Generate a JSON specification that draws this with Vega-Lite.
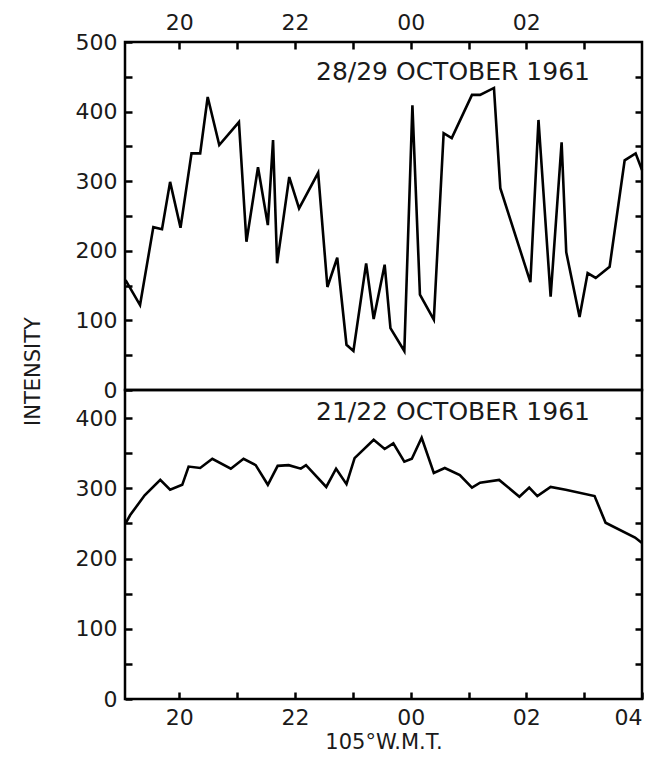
{
  "$schema": "https://vega.github.io/schema/vega-lite/v6.json",
  "background": "white",
  "padding": {"left": 20, "top": 9, "right": 0, "bottom": 4},
  "spacing": 0,
  "bounds": "flush",
  "config": {
    "view": {"stroke": "black", "strokeWidth": 2.5},
    "font": "DejaVu Sans",
    "axis": {
      "domain": false,
      "grid": false,
      "tickColor": "black",
      "tickWidth": 2.5,
      "tickSize": -7,
      "labelFont": "DejaVu Sans",
      "labelFontSize": 22,
      "labelColor": "#1a1a1a",
      "labelPadding": 15,
      "titleFont": "DejaVu Sans",
      "titleFontSize": 21,
      "titleFontWeight": "normal",
      "titleColor": "#1a1a1a"
    }
  },
  "datasets": {
    "obs": [
      {"night": "28/29", "hour": 19.07, "intensity": 158},
      {"night": "28/29", "hour": 19.32, "intensity": 122},
      {"night": "28/29", "hour": 19.55, "intensity": 234},
      {"night": "28/29", "hour": 19.70, "intensity": 231},
      {"night": "28/29", "hour": 19.84, "intensity": 299},
      {"night": "28/29", "hour": 20.02, "intensity": 233},
      {"night": "28/29", "hour": 20.21, "intensity": 340},
      {"night": "28/29", "hour": 20.36, "intensity": 340},
      {"night": "28/29", "hour": 20.49, "intensity": 421},
      {"night": "28/29", "hour": 20.69, "intensity": 352},
      {"night": "28/29", "hour": 21.03, "intensity": 385},
      {"night": "28/29", "hour": 21.16, "intensity": 213},
      {"night": "28/29", "hour": 21.36, "intensity": 320},
      {"night": "28/29", "hour": 21.53, "intensity": 237},
      {"night": "28/29", "hour": 21.62, "intensity": 359},
      {"night": "28/29", "hour": 21.69, "intensity": 182},
      {"night": "28/29", "hour": 21.90, "intensity": 306},
      {"night": "28/29", "hour": 22.07, "intensity": 261},
      {"night": "28/29", "hour": 22.40, "intensity": 312},
      {"night": "28/29", "hour": 22.56, "intensity": 148},
      {"night": "28/29", "hour": 22.73, "intensity": 190},
      {"night": "28/29", "hour": 22.89, "intensity": 65},
      {"night": "28/29", "hour": 23.01, "intensity": 56},
      {"night": "28/29", "hour": 23.23, "intensity": 182},
      {"night": "28/29", "hour": 23.36, "intensity": 102},
      {"night": "28/29", "hour": 23.55, "intensity": 180},
      {"night": "28/29", "hour": 23.65, "intensity": 89},
      {"night": "28/29", "hour": 23.89, "intensity": 56},
      {"night": "28/29", "hour": 24.03, "intensity": 409},
      {"night": "28/29", "hour": 24.16, "intensity": 137},
      {"night": "28/29", "hour": 24.40, "intensity": 101},
      {"night": "28/29", "hour": 24.57, "intensity": 369},
      {"night": "28/29", "hour": 24.71, "intensity": 362},
      {"night": "28/29", "hour": 25.06, "intensity": 424},
      {"night": "28/29", "hour": 25.20, "intensity": 424},
      {"night": "28/29", "hour": 25.44, "intensity": 434},
      {"night": "28/29", "hour": 25.55, "intensity": 290},
      {"night": "28/29", "hour": 26.07, "intensity": 155},
      {"night": "28/29", "hour": 26.21, "intensity": 388},
      {"night": "28/29", "hour": 26.42, "intensity": 134},
      {"night": "28/29", "hour": 26.61, "intensity": 356},
      {"night": "28/29", "hour": 26.69, "intensity": 198},
      {"night": "28/29", "hour": 26.92, "intensity": 105},
      {"night": "28/29", "hour": 27.06, "intensity": 168},
      {"night": "28/29", "hour": 27.20, "intensity": 161},
      {"night": "28/29", "hour": 27.44, "intensity": 177},
      {"night": "28/29", "hour": 27.70, "intensity": 330},
      {"night": "28/29", "hour": 27.89, "intensity": 340},
      {"night": "28/29", "hour": 28.00, "intensity": 316},
      {"night": "21/22", "hour": 19.07, "intensity": 250},
      {"night": "21/22", "hour": 19.15, "intensity": 262},
      {"night": "21/22", "hour": 19.40, "intensity": 290},
      {"night": "21/22", "hour": 19.67, "intensity": 312},
      {"night": "21/22", "hour": 19.84, "intensity": 298},
      {"night": "21/22", "hour": 20.05, "intensity": 305},
      {"night": "21/22", "hour": 20.16, "intensity": 331},
      {"night": "21/22", "hour": 20.36, "intensity": 329},
      {"night": "21/22", "hour": 20.57, "intensity": 342},
      {"night": "21/22", "hour": 20.89, "intensity": 328},
      {"night": "21/22", "hour": 21.11, "intensity": 342},
      {"night": "21/22", "hour": 21.32, "intensity": 333},
      {"night": "21/22", "hour": 21.53, "intensity": 305},
      {"night": "21/22", "hour": 21.70, "intensity": 332},
      {"night": "21/22", "hour": 21.89, "intensity": 333},
      {"night": "21/22", "hour": 22.10, "intensity": 328},
      {"night": "21/22", "hour": 22.19, "intensity": 333},
      {"night": "21/22", "hour": 22.54, "intensity": 302},
      {"night": "21/22", "hour": 22.71, "intensity": 328},
      {"night": "21/22", "hour": 22.89, "intensity": 306},
      {"night": "21/22", "hour": 23.03, "intensity": 343},
      {"night": "21/22", "hour": 23.36, "intensity": 369},
      {"night": "21/22", "hour": 23.55, "intensity": 356},
      {"night": "21/22", "hour": 23.70, "intensity": 364},
      {"night": "21/22", "hour": 23.89, "intensity": 338},
      {"night": "21/22", "hour": 24.02, "intensity": 342},
      {"night": "21/22", "hour": 24.19, "intensity": 372},
      {"night": "21/22", "hour": 24.40, "intensity": 322},
      {"night": "21/22", "hour": 24.59, "intensity": 329},
      {"night": "21/22", "hour": 24.85, "intensity": 319},
      {"night": "21/22", "hour": 25.06, "intensity": 301},
      {"night": "21/22", "hour": 25.20, "intensity": 308},
      {"night": "21/22", "hour": 25.53, "intensity": 312},
      {"night": "21/22", "hour": 25.88, "intensity": 288},
      {"night": "21/22", "hour": 26.05, "intensity": 301},
      {"night": "21/22", "hour": 26.19, "intensity": 289},
      {"night": "21/22", "hour": 26.42, "intensity": 302},
      {"night": "21/22", "hour": 26.68, "intensity": 298},
      {"night": "21/22", "hour": 27.18, "intensity": 289},
      {"night": "21/22", "hour": 27.37, "intensity": 251},
      {"night": "21/22", "hour": 27.88, "intensity": 230},
      {"night": "21/22", "hour": 28.00, "intensity": 222}
    ]
  },
  "vconcat": [
    {
      "width": 517,
      "height": 348,
      "layer": [
        {
          "data": {"name": "obs"},
          "transform": [{"filter": "datum.night == '28/29'"}],
          "mark": {"type": "line", "color": "black", "strokeWidth": 2.6},
          "encoding": {
            "x": {
              "field": "hour", "type": "quantitative",
              "scale": {"domain": [19.06, 28], "nice": false, "zero": false},
              "axis": {
                "orient": "top", "title": null,
                "values": [20, 21, 22, 23, 24, 25, 26, 27],
                "labelExpr": "datum.value % 2 == 0 ? ((datum.value % 24) < 10 ? '0' : '') + (datum.value % 24) : ''"
              }
            },
            "y": {
              "field": "intensity", "type": "quantitative",
              "scale": {"domain": [0, 500], "nice": false},
              "axis": {
                "values": [0, 50, 100, 150, 200, 250, 300, 350, 400, 450, 500],
                "labelExpr": "datum.value % 100 == 0 ? datum.label : ''",
                "title": "INTENSITY",
                "titleX": -92,
                "titleY": 329,
                "titleAngle": -90,
                "titleBaseline": "middle"
              }
            }
          }
        },
        {
          "data": {"name": "obs"},
          "transform": [{"filter": "datum.night == '28/29'"}],
          "mark": {"type": "line", "opacity": 0},
          "encoding": {
            "x": {"field": "hour", "type": "quantitative"},
            "y": {
              "field": "intensity", "type": "quantitative",
              "axis": {
                "orient": "right", "labels": false, "title": null,
                "values": [50, 100, 150, 200, 250, 300, 350, 400, 450]
              }
            }
          }
        },
        {
          "data": {"values": [{}]},
          "mark": {"type": "text", "align": "right", "baseline": "alphabetic", "font": "DejaVu Sans", "fontSize": 25, "color": "#1a1a1a"},
          "encoding": {
            "x": {"datum": 27.1, "type": "quantitative"},
            "y": {"datum": 445, "type": "quantitative", "axis": null},
            "text": {"value": "28/29 OCTOBER 1961"}
          }
        }
      ],
      "resolve": {"axis": {"y": "independent"}}
    },
    {
      "width": 517,
      "height": 309,
      "layer": [
        {
          "data": {"name": "obs"},
          "transform": [{"filter": "datum.night == '21/22'"}],
          "mark": {"type": "line", "color": "black", "strokeWidth": 2.6},
          "encoding": {
            "x": {
              "field": "hour", "type": "quantitative",
              "scale": {"domain": [19.06, 28], "nice": false, "zero": false},
              "axis": {
                "orient": "bottom", "title": "105°W.M.T.",
                "titlePadding": 3,
                "values": [20, 21, 22, 23, 24, 25, 26, 27, 28],
                "labelExpr": "datum.value % 2 == 0 ? ((datum.value % 24) < 10 ? '0' : '') + (datum.value % 24) : ''"
              }
            },
            "y": {
              "field": "intensity", "type": "quantitative",
              "scale": {"domain": [0, 440], "nice": false},
              "axis": {
                "values": [0, 50, 100, 150, 200, 250, 300, 350, 400],
                "labelExpr": "datum.value % 100 == 0 ? datum.label : ''",
                "title": null
              }
            }
          }
        },
        {
          "data": {"name": "obs"},
          "transform": [{"filter": "datum.night == '21/22'"}],
          "mark": {"type": "line", "opacity": 0},
          "encoding": {
            "x": {"field": "hour", "type": "quantitative"},
            "y": {
              "field": "intensity", "type": "quantitative",
              "axis": {
                "orient": "right", "labels": false, "title": null,
                "values": [50, 100, 150, 200, 250, 300, 350, 400]
              }
            }
          }
        },
        {
          "data": {"values": [{}]},
          "mark": {"type": "text", "align": "right", "baseline": "alphabetic", "font": "DejaVu Sans", "fontSize": 25, "color": "#1a1a1a"},
          "encoding": {
            "x": {"datum": 27.1, "type": "quantitative"},
            "y": {"datum": 397, "type": "quantitative", "axis": null},
            "text": {"value": "21/22 OCTOBER 1961"}
          }
        }
      ],
      "resolve": {"axis": {"y": "independent"}}
    }
  ]
}
